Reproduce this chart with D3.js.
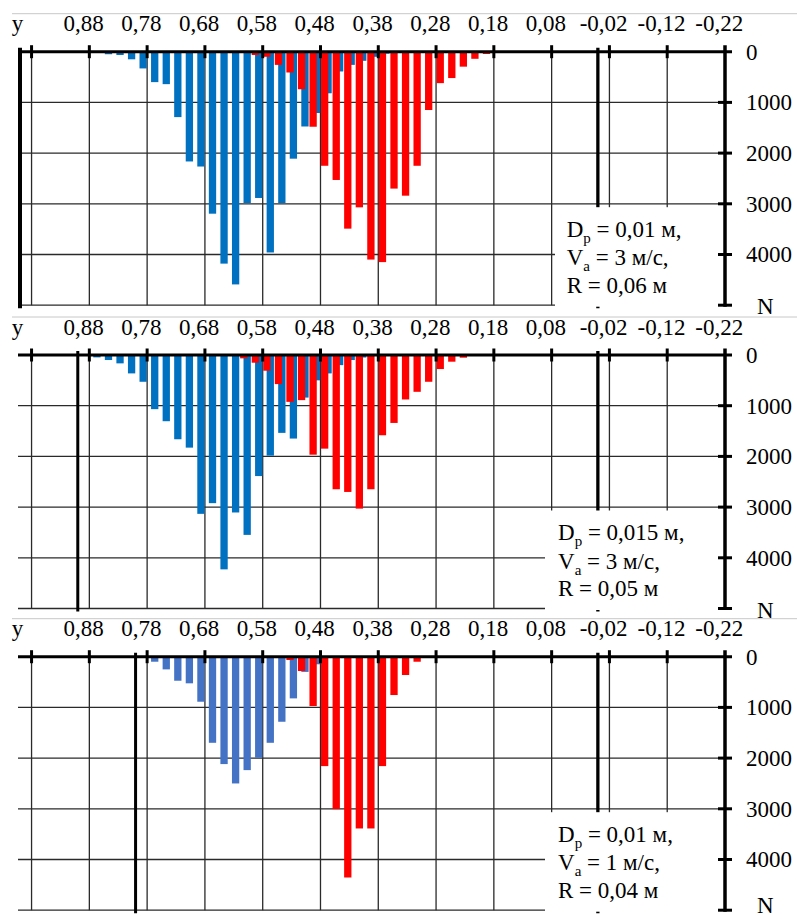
<!DOCTYPE html>
<html><head><meta charset="utf-8">
<script src="https://cdn.jsdelivr.net/npm/d3@7"></script>
<style>
body{margin:0;background:#fff}
svg{display:block}
text{font-family:"Liberation Serif","Times New Roman",serif;fill:#000}
</style>
</head><body>
<svg id="c" width="797" height="919"></svg>
<script>
// ---------- DATA ----------
const categories = [
 "0,98","0,96","0,94","0,92","0,90","0,88","0,86","0,84","0,82","0,80",
 "0,78","0,76","0,74","0,72","0,70","0,68","0,66","0,64","0,62","0,60",
 "0,58","0,56","0,54","0,52","0,50","0,48","0,46","0,44","0,42","0,40",
 "0,38","0,36","0,34","0,32","0,30","0,28","0,26","0,24","0,22","0,20",
 "0,18","0,16","0,14","0,12","0,10","0,08","0,06","0,04","0,02","0,00",
 "-0,02","-0,04","-0,06","-0,08","-0,10","-0,12","-0,14","-0,16","-0,18","-0,20",
 "-0,22"];
const tickLabels = ["0,88","0,78","0,68","0,58","0,48","0,38","0,28","0,18","0,08","-0,02","-0,12","-0,22"];
const gridCategories = ["0,96","0,86","0,76","0,66","0,56","0,46","0,36","0,26","0,16","0,06","-0,04","-0,14"];
const nTicks = [0,1000,2000,3000,4000];
const nGrid = [1000,2000,3000,4000,5000];

// panel 1: Dp = 0,01 м, Va = 3 м/с, R = 0,06 м
const blue1 = [
 0,0,0,0,0,0,0,50,65,150,
 330,600,640,1290,2165,2265,3195,4180,4590,2985,
 2885,3960,2985,2110,1475,1210,820,390,260,180,
 100,40,0,0,0,0,0,0,0,0,
 0,0,0,0,0,0,0,0,0,0,
 0,0,0,0,0,0,0,0,0,0,
 0];
const red1 = [
 0,0,0,0,0,0,0,0,0,0,
 0,0,0,0,0,0,0,0,0,0,
 65,100,260,410,740,1480,2250,2530,3490,3070,
 4100,4150,2700,2840,2250,1150,620,520,295,140,
 45,0,0,0,0,0,0,0,0,0,
 0,0,0,0,0,0,0,0,0,0,
 0];
// panel 2: Dp = 0,015 м, Va = 3 м/с, R = 0,05 м
const blue2 = [
 0,0,0,0,0,0,47,99,165,363,
 528,1068,1306,1662,1827,3133,2922,4228,3106,3548,
 2388,1985,1536,1648,840,500,363,200,100,50,
 0,0,0,0,0,0,0,0,0,0,
 0,0,0,0,0,0,0,0,0,0,
 0,0,0,0,0,0,0,0,0,0,
 0];
const red2 = [
 0,0,0,0,0,0,0,0,0,0,
 0,0,0,0,0,0,0,0,0,66,
 152,310,574,924,890,1966,1847,2648,2701,3030,
 2648,1583,1340,877,726,528,277,132,53,0,
 0,0,0,0,0,0,0,0,0,0,
 0,0,0,0,0,0,0,0,0,0,
 0];
// panel 3: Dp = 0,01 м, Va = 1 м/с, R = 0,04 м
const blue3 = [
 0,0,0,0,0,0,0,0,0,0,
 0,99,250,474,525,888,1698,2118,2500,2237,
 1994,1698,1283,822,300,150,0,0,0,0,
 0,0,0,0,0,0,0,0,0,0,
 0,0,0,0,0,0,0,0,0,0,
 0,0,0,0,0,0,0,0,0,0,
 0];
const red3 = [
 0,0,0,0,0,0,0,0,0,0,
 0,0,0,0,0,0,0,0,0,0,
 0,0,20,65,282,973,2158,3006,4355,3388,
 3388,2158,756,361,99,0,0,0,0,0,
 0,0,0,0,0,0,0,0,0,0,
 0,0,0,0,0,0,0,0,0,0,
 0];
// wall positions (left edge of category)
const walls1 = ["0,98","-0,02"];
const walls2 = ["0,88","-0,02"];
const walls3 = ["0,78","-0,02"];
const dpValues = ["0,01 м,","0,015 м,","0,01 м,"];
const vaValues = ["3 м/с,","3 м/с,","1 м/с,"];
const rValues = ["0,06 м","0,05 м","0,04 м"];

// ---------- LAYOUT / STYLE ----------
const panels = [
 {blue: blue1, red: red1, walls: walls1, blueColor: "#0070C0", top: 51.7, boxLeft: 555, textX: 566.7, leftWallW: 4},
 {blue: blue2, red: red2, walls: walls2, blueColor: "#0070C0", top: 355, boxLeft: 545, textX: 558, leftWallW: 3},
 {blue: blue3, red: red3, walls: walls3, blueColor: "#4472C4", top: 656.7, boxLeft: 545, textX: 558, leftWallW: 3}
];
const panelH = 253.5;
const redColor = "#FF0000";
const gridColor = "#2a2a2a";
const barW = 7.3;
const seriesOffset = {blue: 1.8, red: -1.6};
const fontSize = 23;
const fontFamily = '"Liberation Serif","Times New Roman",serif';
const xRight = 725;

const svg = d3.select("#c");
const x = d3.scaleBand().domain(categories).range([20, xRight]).padding(0);
const bw = x.bandwidth();

function addLine(sel, x1, y1, x2, y2, color, w) {
  return sel.append("line")
    .attr("x1", x1).attr("y1", y1).attr("x2", x2).attr("y2", y2)
    .attr("stroke", color).attr("stroke-width", w);
}

panels.forEach((p, k) => {
  const top = p.top;
  const y = d3.scaleLinear().domain([0, 5000]).range([top, top + panelH]);
  const g = svg.append("g");

  // separator (crop border of stacked images)
  addLine(g, 12, top - 38, 797, top - 38, "#c8c8c8", 1);

  // gridlines
  const grid = g.append("g").attr("class", "grid");
  nGrid.forEach(v => addLine(grid, 18, y(v), xRight, y(v), gridColor, 1.3));
  gridCategories.forEach(c => addLine(grid, x(c), y(0), x(c), y(5000), gridColor, 1.3));

  // bars: blue first, red on top
  const blueData = categories.map((c, i) => ({c, v: p.blue[i]})).filter(d => d.v > 0);
  const redData = categories.map((c, i) => ({c, v: p.red[i]})).filter(d => d.v > 0);
  g.append("g").attr("class", "blue").selectAll("rect").data(blueData).join("rect")
    .attr("x", d => x(d.c) + bw / 2 + seriesOffset.blue - barW / 2)
    .attr("y", y(0)).attr("width", barW)
    .attr("height", d => y(d.v) - y(0))
    .attr("fill", p.blueColor);
  g.append("g").attr("class", "red").selectAll("rect").data(redData).join("rect")
    .attr("x", d => x(d.c) + bw / 2 + seriesOffset.red - barW / 2)
    .attr("y", y(0)).attr("width", barW)
    .attr("height", d => y(d.v) - y(0))
    .attr("fill", redColor);

  // walls
  p.walls.forEach((c, i) => addLine(g, x(c), y(0) - 4, x(c), y(5000) + 3, "#000", i === 0 ? p.leftWallW : 3.3));

  // text box
  g.append("rect").attr("x", p.boxLeft).attr("y", top + 155.5)
    .attr("width", 719 - p.boxLeft).attr("height", 99.5)
    .attr("fill", "#fff");

  // axes lines + ticks
  addLine(g, 18, y(0), 732, y(0), "#000", 3);
  gridCategories.forEach(c => addLine(g, x(c), y(0) - 6.5, x(c), y(0) + 6.5, "#000", 3));
  addLine(g, xRight, y(0) - 6.5, xRight, y(5000) + 1.5, "#000", 3.5);
  nGrid.forEach(v => addLine(g, 718, y(v), 732, y(v), "#000", 3));

  // top labels
  const ax = g.append("g").attr("transform", `translate(0,${y(0)})`)
    .call(d3.axisTop(x).tickValues(tickLabels).tickSize(0).tickPadding(20.5));
  ax.select(".domain").remove();
  ax.attr("font-family", null).attr("font-size", null);
  ax.selectAll("text").style("font-size", fontSize + "px").style("font-family", fontFamily).attr("fill", "#000");

  // right labels
  const ay = g.append("g").attr("transform", `translate(${xRight},0)`)
    .call(d3.axisRight(y).tickValues(nTicks).tickFormat(d3.format("d")).tickSize(0).tickPadding(21));
  ay.select(".domain").remove();
  ay.attr("font-family", null).attr("font-size", null);
  ay.selectAll("text").style("font-size", fontSize + "px").style("font-family", fontFamily).attr("fill", "#000");

  // axis titles
  g.append("text").attr("x", 17.5).attr("y", y(0) - 20.5)
    .attr("text-anchor", "middle").style("font-size", fontSize + "px").style("font-family", fontFamily).text("y");
  g.append("text").attr("x", 757).attr("y", Math.min(y(5000) + 9, 913))
    .style("font-size", fontSize + "px").style("font-family", fontFamily).text("N");

  // parameter text
  const lines = [
    {main: "D", sub: "p", rest: " = " + dpValues[k]},
    {main: "V", sub: "a", rest: " = " + vaValues[k]},
    {main: "R", sub: null, rest: " = " + rValues[k]}
  ];
  const baselines = [184.8, 213.6, 240.8];
  lines.forEach((ln, j) => {
    const t = g.append("text").attr("x", p.textX).attr("y", top + baselines[j])
      .style("font-size", fontSize + "px").style("font-family", fontFamily).style("white-space", "pre");
    t.append("tspan").text(ln.main);
    if (ln.sub) {
      t.append("tspan").attr("dy", 6).style("font-size", "15px").text(ln.sub);
      t.append("tspan").attr("dy", -6).text(ln.rest);
    } else {
      t.append("tspan").text(ln.rest);
    }
  });
});
</script>
</body></html>
